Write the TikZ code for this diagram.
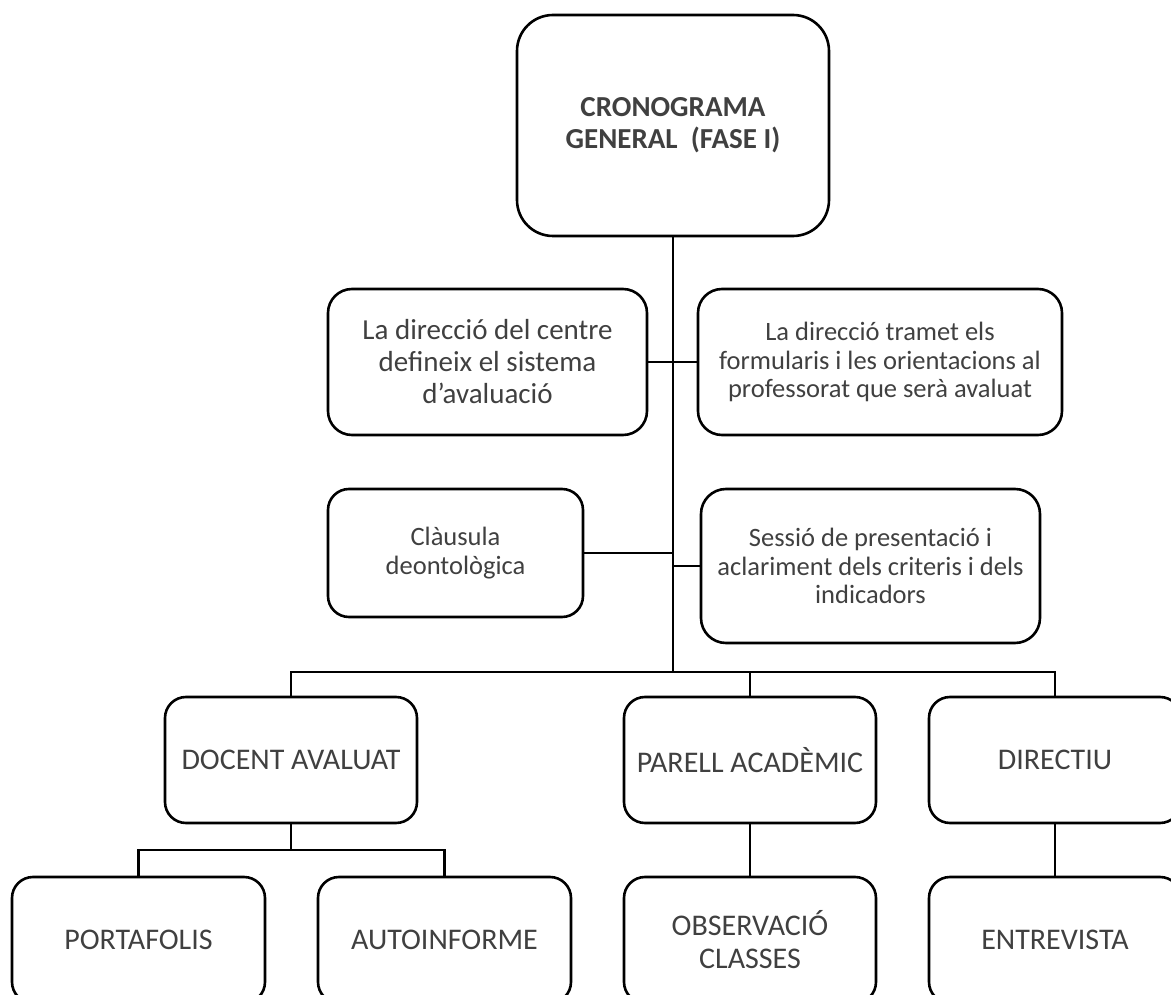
\documentclass[tikz,border=0pt]{standalone}
\usepackage{fontspec}
\setmainfont{Carlito}
\definecolor{txt}{HTML}{404040}
\begin{document}
\begin{tikzpicture}[x=1pt,y=1pt,
  box/.style={draw=black, line width=2.6pt, rounded corners=21pt, align=center,
    text=txt, inner sep=0pt, minimum width=252pt, minimum height=126pt,
    font=\fontsize{30}{33}\selectfont},
  midtext/.style={font=\fontsize{29}{32}\selectfont},
  smalltext/.style={font=\fontsize{26.5}{28.5}\selectfont},
  link/.style={line width=2.6pt, line cap=rect}]
\useasboundingbox (0,0) rectangle (1171,-995);

% top of the chart
\node[box, minimum width=312pt, minimum height=221pt, rounded corners=36pt,
  font=\bfseries\fontsize{29}{32}\selectfont] (top) at (673,-125.5)
  {CRONOGRAMA\\GENERAL\ \ (FASE I)};

% preparation steps
\node[box, midtext, minimum width=319pt, minimum height=146pt, rounded corners=24pt] (defineix) at (487.5,-362)
  {La direcció del centre\\defineix el sistema\\d’avaluació};
\node[box, smalltext, minimum width=364pt, minimum height=146pt, rounded corners=24pt] (tramet) at (880,-362)
  {La direcció tramet els\\formularis i les orientacions al\\professorat que serà avaluat};
\node[box, smalltext, minimum width=255pt, minimum height=128pt] (clausula) at (455.5,-553)
  {Clàusula\\deontològica};
\node[box, smalltext, minimum width=339pt, minimum height=154pt, rounded corners=25pt] (sessio) at (870.5,-566)
  {Sessió de presentació i\\aclariment dels criteris i dels\\indicadors};

% agents
\node[box] (docent) at (291,-760) {DOCENT AVALUAT};
\node[box] (parell) at (750,-760) {PARELL ACADÈMIC};
\node[box] (directiu) at (1055,-760) {DIRECTIU};

% instruments
\node[box, minimum width=253pt] (portafolis) at (138.5,-940) {PORTAFOLIS};
\node[box, minimum width=253pt] (autoinforme) at (444.5,-940) {AUTOINFORME};
\node[box] (observacio) at (750,-940) {OBSERVACIÓ\\CLASSES};
\node[box] (entrevista) at (1055,-940) {ENTREVISTA};

\coordinate (bus) at (673,-672);
\coordinate (subbus) at (291,-850);

% main trunk and side branches
\draw[link] (top.south) -- (bus);
\draw[link] (defineix.east) -- (tramet.west);
\draw[link] (clausula.east) -- (clausula.east -| top.south);
\draw[link] (top.south |- sessio.west) -- (sessio.west);

% distribution to the agents
\draw[link] (docent.north) |- (directiu.north |- bus) -- (directiu.north);
\draw[link] (parell.north) -- (parell.north |- bus);

% agents to instruments
\draw[link] (docent.south) -- (subbus);
\draw[link] (portafolis.north) |- (autoinforme.north |- subbus) -- (autoinforme.north);
\draw[link] (parell.south) -- (observacio.north);
\draw[link] (directiu.south) -- (entrevista.north);
\end{tikzpicture}
\end{document}
